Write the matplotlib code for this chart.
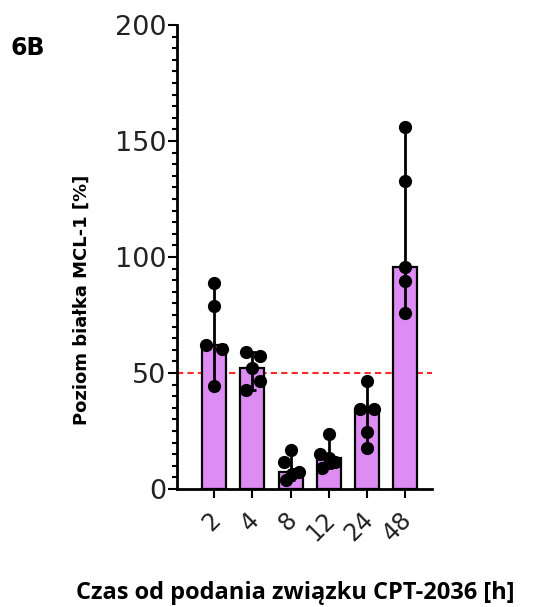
import numpy as np
import matplotlib
matplotlib.use('Agg')
import matplotlib.pyplot as plt
from matplotlib.ticker import MultipleLocator
from matplotlib.transforms import ScaledTranslation

# dane (5 powtórzeń na punkt czasowy)
czas = ['2', '4', '8', '12', '24', '48']
pomiary = [
    [88.7, 78.9, 62.1, 60.2, 44.5],
    [59.2, 57.3, 52.0, 46.6, 42.7],
    [16.8, 11.5, 7.5, 6.5, 3.9],
    [23.7, 15.1, 13.2, 11.5, 8.9],
    [46.7, 34.3, 34.3, 24.7, 17.5],
    [156.2, 132.8, 95.5, 89.8, 75.7],
]
# przesunięcia punktów w poziomie (jak w oryginale)
jitter = [
    [0, 0, -0.21, 0.2, 0],
    [-0.16, 0.19, 0, 0.19, -0.16],
    [0, -0.18, 0.22, 0.05, -0.13],
    [0, -0.22, 0, 0.16, -0.19],
    [0, -0.18, 0.17, 0, 0],
    [0, 0, 0, 0, 0],
]
prog = 50

x = np.arange(len(czas))
mediana = np.array([np.median(p) for p in pomiary])
mn = np.array([min(p) for p in pomiary])
mx = np.array([max(p) for p in pomiary])

fig = plt.figure(figsize=(5.43, 6.07), dpi=100)
ax = fig.add_axes([177/543, 118/607, (432-177)/543, (489-25)/607])

ax.axhline(prog, color='#FF2A2A', lw=1.5, dashes=(3, 2), zorder=1)
ax.bar(x, mediana, width=0.63, color='#DD8CF4', edgecolor='black', linewidth=1.6, zorder=2)
ax.errorbar(x, mediana, yerr=[mediana - mn, mx - mediana], fmt='none', ecolor='black',
            elinewidth=2, capsize=3, capthick=2, zorder=3)
for i in range(len(czas)):
    ax.plot(x[i] + np.array(jitter[i]), pomiary[i], 'o', color='black', ms=8.5, zorder=4)

ax.set_xlim(-0.97, 5.7)
ax.set_ylim(0, 200)
ax.spines['top'].set_visible(False)
ax.spines['right'].set_visible(False)
ax.spines['left'].set_linewidth(2)
ax.spines['bottom'].set_linewidth(2)

ax.yaxis.set_major_locator(MultipleLocator(50))
ax.yaxis.set_minor_locator(MultipleLocator(5))
ax.tick_params(axis='y', which='major', length=6.5, width=1.5, labelsize=19.5, labelcolor='#222222', pad=1)
ax.tick_params(axis='y', which='minor', length=3.6, width=1.5)
ax.tick_params(axis='x', which='major', length=6.5, width=1.5, pad=13, labelcolor='#222222')

ax.set_xticks(x)
ax.set_xticklabels(czas, rotation=45, ha='right', va='center', rotation_mode='anchor', fontsize=17)
przes = ScaledTranslation(3/100, 0, fig.dpi_scale_trans)
for lab in ax.get_xticklabels():
    lab.set_transform(lab.get_transform() + przes)

fig.text(82/543, 1 - 300/607, 'Poziom białka MCL-1 [%]', rotation=90, ha='center', va='center',
         fontsize=13, fontweight='bold', color='black')
fig.text(295/543, 1 - 593/607, 'Czas od podania związku CPT-2036 [h]', ha='center', va='center',
         fontsize=17, fontweight='bold', family='Open Sans', color='black')
fig.text(28/543, 1 - 48/607, '6B', ha='center', va='center', fontsize=17, fontweight='bold')

fig.savefig('out.png', dpi=100)
